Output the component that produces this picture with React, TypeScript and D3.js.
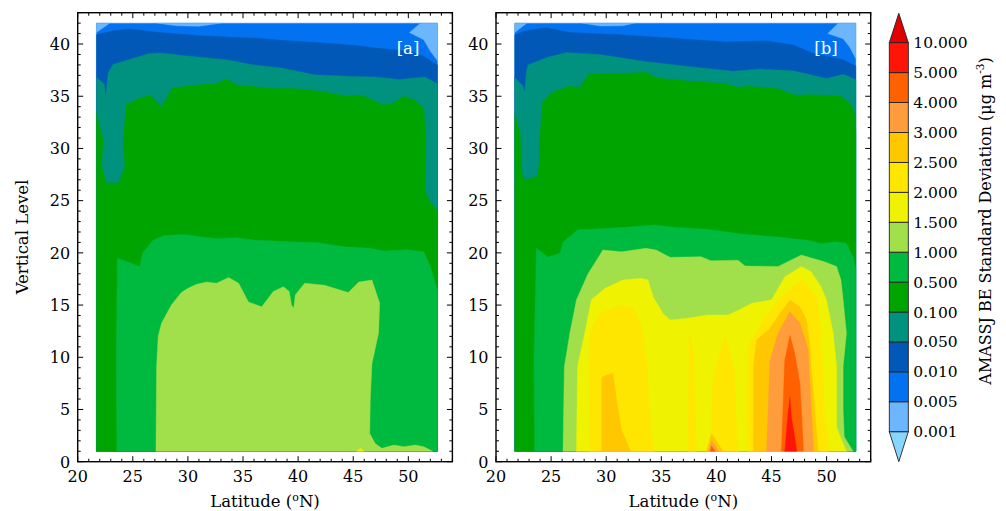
import React from "react";
import * as d3 from "d3";

// ---------- contour levels & colours ----------
const LEVELS = ["0.001", "0.005", "0.010", "0.050", "0.100", "0.500", "1.000", "1.500", "2.000", "2.500", "3.000", "4.000", "5.000", "10.000"];
// COLORS[0] = below 0.001, COLORS[k] = LEVELS[k-1]..LEVELS[k], COLORS[14] = above 10
const COLORS = ["#86d6fe", "#6cb6fd", "#0372f0", "#0258b6", "#00917f", "#00a400", "#00b93f", "#a1e04a", "#eff200", "#ffe600", "#ffc700", "#ff9c3b", "#ff6100", "#ff1408", "#e00000"];

const X_TICKS = [20, 25, 30, 35, 40, 45, 50];
const Y_TICKS = [0, 5, 10, 15, 20, 25, 30, 35, 40];

const LAT0 = 21.7, LAT1 = 52.65, LEV0 = 1, LEV1 = 42;

// ---------- panel [a] boundaries (lat, vertical level) ----------
const aLightBlue1 = [[21.7, 42], [22.9, 42], [21.7, 41.1]];
const aLightBlue2 = [[27.2, 42], [29, 41.75], [31, 41.7], [33, 42]];
const aLightBlue3 = [[51.1, 42], [50.1, 41.1], [51.4, 40.4], [52.0, 39.3], [52.65, 38.4], [52.65, 42]];
const aDarkBlueTop = [[21.7, 40.9], [23.2, 41.26], [24.7, 41.45], [27.2, 41.13], [31.1, 40.8], [36.3, 40.55], [39.3, 40.3], [42.3, 40.1], [45.3, 39.85], [47.2, 39.6], [50.2, 39.3], [51.4, 38.8], [52.65, 38.0]];
const aTealTop = [[21.7, 36.8], [22.4, 36.2], [22.55, 34.9], [22.75, 37.2], [23.2, 38.05], [24.9, 38.6], [26.5, 39.1], [27.5, 39.15], [30.0, 38.85], [33.5, 38.5], [36.0, 38.0], [38.5, 37.7], [41.5, 37.05], [45.0, 36.9], [47.0, 36.85], [49.2, 36.6], [51.5, 36.85], [52.65, 36.2]];
const aDarkGreen = [[21.7, 33.35], [22.3, 30.8], [22.16, 28.26], [22.6, 26.7], [23.7, 26.7], [24.28, 28.26], [24.15, 30.8], [24.4, 34.2], [25.6, 34.8], [26.6, 35.1], [27.6, 34.0], [28.6, 35.8], [31.1, 36.1], [32.6, 36.2], [33.5, 36.65], [34.5, 36.05], [37.8, 35.75], [39.6, 35.75], [42.3, 35.45], [44.4, 35.0], [45.8, 35.1], [47.7, 34.15], [48.6, 34.3], [49.6, 35.0], [50.6, 34.6], [51.4, 33.85], [51.6, 30.8], [51.5, 26.0], [51.85, 25.06], [52.65, 24.0], [52.65, 1], [21.7, 1]];
const aGreen = [[23.55, 1], [23.5, 10], [23.6, 19.48], [25.65, 18.7], [25.9, 20.0], [26.86, 21.23], [27.8, 21.65], [29.6, 21.77], [32.6, 21.36], [34.4, 21.45], [35.95, 21.23], [39.3, 21.07], [41.7, 21.0], [44.1, 20.6], [46.55, 20.43], [47.8, 20.18], [49.9, 20.3], [51.4, 20.1], [52.0, 18.7], [52.65, 16.4], [52.65, 1]];
const aLightGreen = [[27.1, 1], [27.16, 9.1], [27.3, 12.0], [27.6, 13.25], [28.5, 15.0], [29.4, 16.2], [30.0, 16.6], [30.8, 17.0], [31.7, 17.2], [32.6, 17.1], [33.7, 17.65], [34.6, 17.1], [35.5, 15.3], [36.7, 14.84], [37.75, 16.3], [38.66, 16.76], [39.2, 16.3], [39.4, 15.0], [39.6, 14.7], [39.75, 16.0], [40.6, 17.1], [42.4, 16.9], [44.55, 16.2], [45.5, 17.2], [46.7, 17.4], [47.4, 15.2], [47.3, 12.3], [46.7, 9.4], [46.55, 5.9], [46.5, 2.7], [47.0, 1.75], [47.6, 1.28], [48.7, 1.6], [49.6, 1.44], [50.65, 1.6], [51.4, 1.44], [52.0, 1.12], [52.2, 1]];
const aYellowSpot = [[45.3, 1], [45.65, 1.3], [46.0, 1]];

// ---------- panel [b] boundaries ----------
const bLightBlue1 = [[21.7, 42], [22.8, 42], [21.7, 41.1]];
const bLightBlue2 = [[27.8, 42], [29.5, 41.72], [31.5, 41.75], [32.6, 42]];
const bLightBlue3 = [[51.05, 42], [50.1, 41.0], [51.5, 40.5], [52.1, 39.7], [52.65, 38.6], [52.65, 42]];
const bDarkBlueTop = [[21.7, 40.9], [22.8, 41.3], [24.6, 41.56], [26.7, 41.1], [31.2, 40.9], [35.5, 40.6], [40.9, 40.2], [44.55, 40.3], [47.0, 39.9], [48.8, 39.1], [51.5, 38.5], [52.65, 37.9]];
const bTealTop = [[21.7, 36.8], [22.45, 36.0], [22.6, 35.4], [22.75, 37.3], [22.9, 38.0], [24.6, 38.7], [26.4, 39.2], [29.4, 39.0], [33.7, 38.3], [37.9, 37.8], [41.5, 37.4], [43.95, 37.6], [46.97, 37.44], [50.0, 36.7], [51.5, 37.1], [52.65, 36.6]];
const bDarkGreen = [[21.7, 33.35], [22.2, 31.4], [22.3, 27.9], [22.6, 26.97], [23.7, 27.3], [23.9, 28.25], [24.0, 31.4], [24.2, 34.4], [25.0, 35.3], [26.6, 35.95], [27.6, 35.84], [28.4, 37.1], [31.85, 37.2], [33.6, 37.3], [34.6, 36.75], [37.9, 36.4], [40.9, 36.2], [41.8, 35.85], [43.0, 35.95], [45.5, 35.75], [47.2, 35.1], [48.5, 35.15], [51.3, 35.0], [52.2, 34.2], [52.6, 33.0], [52.65, 31.0], [52.65, 1], [21.7, 1]];
const bGreen = [[23.5, 1], [23.45, 10], [23.66, 20.43], [24.7, 19.6], [25.8, 19.96], [26.1, 21.07], [27.4, 22.2], [30.2, 22.35], [31.7, 22.45], [34.4, 22.67], [36.2, 22.45], [39.2, 22.25], [42.3, 21.8], [45.3, 21.55], [48.3, 21.2], [49.5, 20.9], [51.0, 21.07], [51.8, 20.9], [52.4, 19.6], [52.65, 18.4], [52.65, 1]];
const bLightGreen = [[26.08, 1], [26.2, 9.1], [26.7, 12.3], [27.3, 15.5], [28.35, 18.0], [29.7, 20.27], [31.4, 20.1], [33.6, 20.43], [34.55, 20.27], [35.8, 19.57], [38.6, 19.63], [39.5, 19.25], [41.96, 19.3], [42.6, 18.74], [45.6, 18.7], [47.7, 19.8], [49.8, 19.16], [50.9, 18.7], [51.3, 17.4], [51.5, 15.5], [51.8, 12.3], [51.5, 9.1], [51.5, 5], [51.6, 2.4], [52.4, 1]];
const bLemon = [[27.3, 1], [27.4, 9.1], [28.05, 12.3], [28.65, 15.5], [29.9, 16.6], [31.5, 17.4], [33.2, 17.56], [33.8, 17.4], [34.25, 15.8], [35.15, 14.2], [35.8, 13.57], [37.4, 13.73], [39.2, 14.05], [41.05, 14.05], [42.0, 14.5], [43.2, 15.17], [45.0, 15.5], [46.2, 17.7], [47.7, 18.7], [48.6, 18.2], [49.5, 16.76], [49.98, 15.5], [50.6, 12.3], [50.9, 9.1], [50.9, 3.35], [51.35, 2.1], [51.8, 1]];
const bYellowL = [[28.5, 1], [28.5, 12.3], [29.4, 14.2], [31.25, 15.0], [32.46, 14.7], [33.2, 12.9], [33.7, 9.1], [34.0, 4], [34.3, 1]];
const bYellowM1 = [[37.4, 1], [37.55, 12.3], [37.9, 10.5], [38.2, 1]];
const bYellowM2 = [[39.4, 1], [39.7, 8], [40.8, 12.1], [41.6, 9], [41.8, 4], [42.0, 1]];
const bYellowR = [[42.9, 1], [42.7, 5], [42.9, 11], [44.2, 13.5], [45.9, 15.8], [47.7, 17.4], [49.1, 15.8], [49.5, 12], [49.8, 5], [50.2, 1]];
const bAmberL = [[29.6, 1], [29.6, 8.1], [30.6, 8.5], [30.95, 5.9], [31.4, 3.0], [32.2, 1]];
const bAmberM = [[39.1, 1], [39.56, 2.7], [40.6, 1]];
const bAmberR = [[43.35, 1], [43.35, 9.1], [43.65, 11.65], [44.86, 12.77], [45.76, 14.2], [46.67, 15.48], [47.58, 14.84], [48.18, 13.57], [48.5, 11.0], [48.6, 9.1], [49.24, 1]];
const bOrangeM = [[39.3, 1], [39.56, 2.0], [40.2, 1]];
const bOrangeR = [[44.55, 1], [44.86, 9.7], [45.6, 12.3], [46.67, 14.36], [47.58, 13.25], [48.33, 10.7], [48.8, 1]];
const bDarkOrangeM = [[39.45, 1], [39.56, 1.5], [39.9, 1]];
const bDarkOrangeR = [[45.9, 1], [46.07, 5.9], [46.2, 9.7], [46.67, 12.1], [47.1, 10.4], [47.58, 7.5], [47.9, 1]];
const bRedR = [[46.2, 1], [46.5, 4.6], [46.67, 6.2], [46.8, 4.3], [47.3, 1]];

type P = number[];
const FULL: P[] = [[LAT0, LEV0], [LAT0, LEV1], [LAT1, LEV1], [LAT1, LEV0]];
const band = (top: P[]): P[] => [...top, [LAT1, LEV0], [LAT0, LEV0]];

// layer table: [colour index, polygon]
const LAYERS_A: [number, P[]][] = [
  [2, FULL], [1, aLightBlue1], [1, aLightBlue2], [1, aLightBlue3],
  [3, band(aDarkBlueTop)], [4, band(aTealTop)], [5, aDarkGreen], [6, aGreen],
  [7, aLightGreen], [8, aYellowSpot],
];
const LAYERS_B: [number, P[]][] = [
  [2, FULL], [1, bLightBlue1], [1, bLightBlue2], [1, bLightBlue3],
  [3, band(bDarkBlueTop)], [4, band(bTealTop)], [5, bDarkGreen], [6, bGreen],
  [7, bLightGreen], [8, bLemon], [9, bYellowL], [9, bYellowM1], [9, bYellowM2], [9, bYellowR],
  [10, bAmberL], [10, bAmberM], [10, bAmberR], [11, bOrangeM], [11, bOrangeR],
  [12, bDarkOrangeM], [12, bDarkOrangeR], [13, bRedR],
];

const FONT = "'DejaVu Serif', serif";
const Y = d3.scaleLinear().domain([0, 43]).range([461.7, 12.7]);

function Panel({ x0, layers, tag }: { x0: number; layers: [number, P[]][]; tag: string }) {
  const X = d3.scaleLinear().domain([20, 54]).range([x0, x0 + 374.7]);
  const line = d3.line<P>().x((d) => X(d[0])).y((d) => Y(d[1]));
  const [xl, xr] = X.range();
  const [yb, yt] = Y.range();
  const minorX = d3.range(20, 55, 1);
  const minorY = d3.range(0, 44, 1);
  return (
    <g>
      {layers.map(([ci, poly], i) => (
        <path key={i} d={line(poly as P[]) + "Z"} fill={COLORS[ci]} stroke={COLORS[ci]} strokeWidth={0.4} strokeLinejoin="round" />
      ))}
      <text x={xr - 33} y={54} fill="#fff" fontFamily={FONT} fontSize={16.5} textAnchor="end">{tag}</text>
      <rect x={xl} y={yt} width={xr - xl} height={yb - yt} fill="none" stroke="#000" strokeWidth={1.4} />
      {minorX.map((v) => {
        const len = v % 5 === 0 ? 5.5 : 3;
        return (
          <g key={"x" + v}>
            <line x1={X(v)} x2={X(v)} y1={yb} y2={yb - len} stroke="#000" strokeWidth={1} />
            <line x1={X(v)} x2={X(v)} y1={yt} y2={yt + len} stroke="#000" strokeWidth={1} />
          </g>
        );
      })}
      {minorY.map((v) => {
        const len = v % 5 === 0 ? 5.5 : 3;
        return (
          <g key={"y" + v}>
            <line x1={xl} x2={xl + len} y1={Y(v)} y2={Y(v)} stroke="#000" strokeWidth={1} />
            <line x1={xr} x2={xr - len} y1={Y(v)} y2={Y(v)} stroke="#000" strokeWidth={1} />
          </g>
        );
      })}
      {X_TICKS.map((v) => (
        <text key={"xt" + v} x={X(v)} y={481.5} fontFamily={FONT} fontSize={16} textAnchor="middle">{v}</text>
      ))}
      {Y_TICKS.map((v) => (
        <text key={"yt" + v} x={xl - 7.5} y={Y(v) + 5.8} fontFamily={FONT} fontSize={16} textAnchor="end">{v}</text>
      ))}
      <text x={(xl + xr) / 2} y={507} fontFamily={FONT} fontSize={16.5} textAnchor="middle">
        Latitude (<tspan fontSize={11} dy={-6}>o</tspan><tspan dy={6}>N)</tspan>
      </text>
    </g>
  );
}

function ColorBar() {
  const x0 = 889.3, x1 = 908.3, xm = (x0 + x1) / 2;
  const cb = d3.scaleLinear().domain([0, 13]).range([431.7, 42.7]);
  const boxes = d3.range(1, 14);
  return (
    <g>
      <path d={`M${x0},${cb(0)}L${xm},461.7L${x1},${cb(0)}Z`} fill={COLORS[0]} stroke="#222" strokeWidth={0.9} />
      <path d={`M${x0},${cb(13)}L${xm},13.3L${x1},${cb(13)}Z`} fill={COLORS[14]} stroke="#222" strokeWidth={0.9} />
      {boxes.map((k) => (
        <rect key={k} x={x0} y={cb(k)} width={x1 - x0} height={cb(k - 1) - cb(k)} fill={COLORS[k]} stroke="#222" strokeWidth={0.9} />
      ))}
      {LEVELS.map((l, i) => (
        <text key={l} x={913.3} y={cb(i) + 5.5} fontFamily={FONT} fontSize={15.5}>{l}</text>
      ))}
      <text transform="translate(991,221) rotate(-90)" fontFamily={FONT} fontSize={16} textAnchor="middle">
        AMASSJ BE Standard Deviation (μg m<tspan fontSize={10.5} dy={-7}>-3</tspan><tspan dy={7}>)</tspan>
      </text>
    </g>
  );
}

export default function App() {
  return (
    <svg width={1006} height={511} style={{ position: "absolute", left: 0, top: 0, background: "#fff" }}>
      <rect width={1006} height={511} fill="#fff" />
      <Panel x0={77.7} layers={LAYERS_A} tag="[a]" />
      <Panel x0={496} layers={LAYERS_B} tag="[b]" />
      <text transform="translate(28,237) rotate(-90)" fontFamily={FONT} fontSize={16.5} textAnchor="middle">Vertical Level</text>
      <ColorBar />
    </svg>
  );
}
